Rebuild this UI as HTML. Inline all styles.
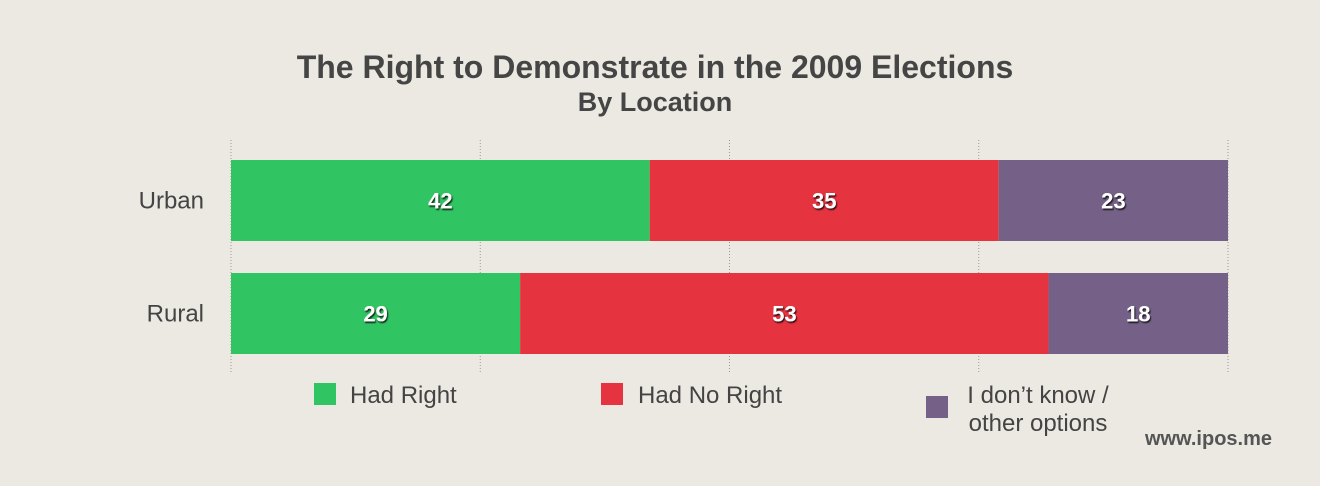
<!DOCTYPE html>
<html><head><meta charset="utf-8"><style>
body{margin:0;background:#ece9e2;font-family:"Liberation Sans",sans-serif;}
#wrap{position:relative;width:1320px;height:486px;overflow:hidden;background:#ece9e2;}
</style></head><body>
<div id="wrap">
<svg id="chart" width="1320" height="486">
<defs><filter id="sh" x="-20%" y="-20%" width="140%" height="140%"><feDropShadow dx="1" dy="1.5" stdDeviation="0.8" flood-color="#000" flood-opacity="0.85"/></filter></defs>
<text x="655" y="78" text-anchor="middle" font-size="32" font-weight="bold" fill="#454545">The Right to Demonstrate in the 2009 Elections</text>
<text x="655" y="111" text-anchor="middle" font-size="27" font-weight="bold" fill="#454545">By Location</text>
<g id="grid"></g><g id="bars"></g><g id="legend"></g>
<text x="1272" y="445" text-anchor="end" font-size="20" font-weight="bold" fill="#555">www.ipos.me</text>
</svg></div>
<script>
const categories=["Urban","Rural"];
const hadRight=[42,29];
const hadNoRight=[35,53];
const dontKnow=[23,18];
const seriesNames=["Had Right","Had No Right","I don’t know / other options"];
const gridTicks=[0,25,50,75,100];
const colors=["#31c462","#e63340","#756188"];
const NS="http://www.w3.org/2000/svg";
const x0=231,x1=1228;
const xs=v=>x0+(x1-x0)*v/100;
const rowY=[160,273],barH=81;
function mk(t,a,p){const e=document.createElementNS(NS,t);for(const k in a)e.setAttribute(k,a[k]);p.appendChild(e);return e;}
const grid=document.getElementById('grid');
gridTicks.forEach(t=>{
 const l=mk('line',{x1:xs(t),x2:xs(t),y1:140,y2:372,stroke:'#999','stroke-width':1,'stroke-dasharray':'1,2'},grid);
 
 
});
const bars=document.getElementById('bars');
const series=[hadRight,hadNoRight,dontKnow];
categories.forEach((c,i)=>{
 const lab=mk('text',{x:204,y:rowY[i]+barH/2+8,'text-anchor':'end','font-size':24,fill:'#444'},bars);
 lab.textContent=c;
 
 
 let acc=0;
 series.forEach((s,j)=>{
  const v=s[i];
  const r=mk('rect',{x:xs(acc),y:rowY[i],width:xs(acc+v)-xs(acc),height:barH,fill:colors[j]},bars);
  
  
  const t=mk('text',{x:(xs(acc)+xs(acc+v))/2,y:rowY[i]+barH/2+8,'text-anchor':'middle','font-size':22,'font-weight':'bold',fill:'#fff',filter:'url(#sh)'},bars);
  t.textContent=v;
  
  
  acc+=v;
 });
});
const lg=document.getElementById('legend');
const legPos=[[314,383,350],[601,383,638],[926,396,null]];
seriesNames.forEach((n,j)=>{
 const p=legPos[j];
 const r=mk('rect',{x:p[0],y:p[1],width:22,height:22,fill:colors[j]},lg);
 
 
 if(p[2]!==null){
  const t=mk('text',{x:p[2],y:p[1]+20,'font-size':24,fill:'#444'},lg);
  t.textContent=n;
  
  
 } else {
  const parts=n.split(' / ');
  const t1=mk('text',{x:1038,y:403,'text-anchor':'middle','font-size':24,fill:'#444'},lg);
  t1.textContent=parts[0]+' /';
  
  
  const t2=mk('text',{x:1038,y:431,'text-anchor':'middle','font-size':24,fill:'#444'},lg);
  t2.textContent=parts[1];
  
  
 }
});
</script>
</body></html>
